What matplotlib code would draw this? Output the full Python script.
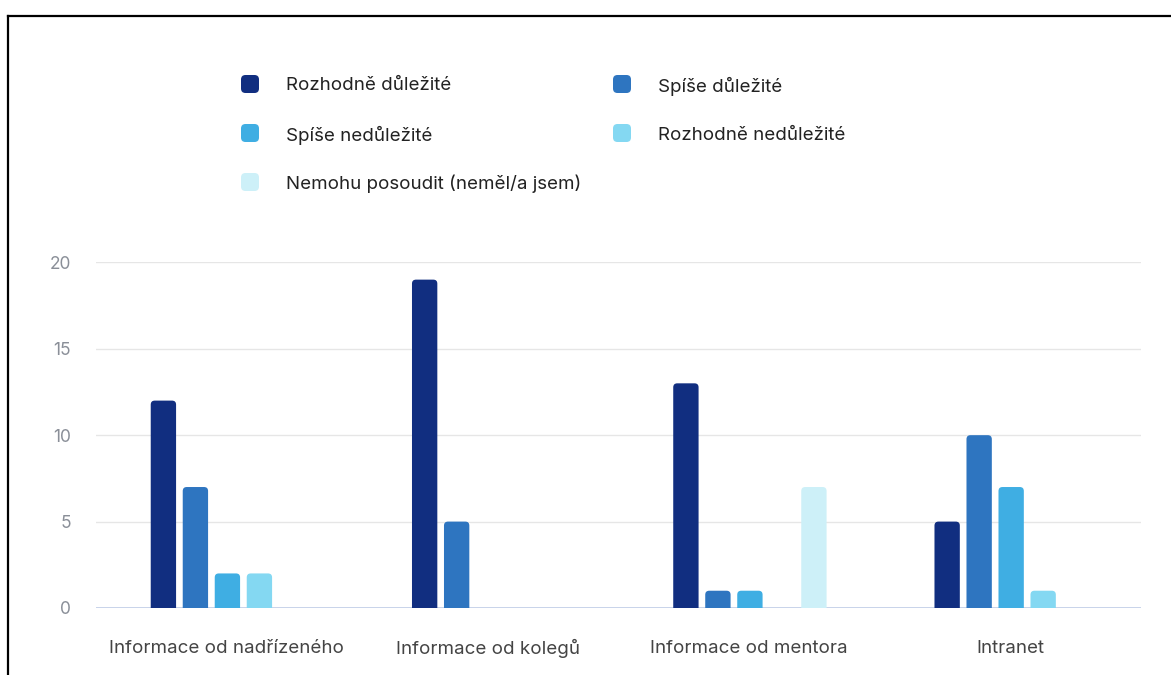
import numpy as np
import matplotlib; matplotlib.use("Agg")
import matplotlib.pyplot as plt
from matplotlib.patches import FancyBboxPatch
from matplotlib.lines import Line2D

plt.rcParams["font.family"] = ["Inter", "DejaVu Sans"]

categories = ["Informace od nadřízeného", "Informace od kolegů", "Informace od mentora", "Intranet"]
series = ["Rozhodně důležité", "Spíše důležité", "Spíše nedůležité",
          "Rozhodně nedůležité", "Nemohu posoudit (neměl/a jsem)"]
rozhodne_dulezite = [12, 19, 13, 5]
spise_dulezite = [7, 5, 1, 10]
spise_nedulezite = [2, 0, 1, 7]
rozhodne_nedulezite = [2, 0, 0, 1]
nemohu_posoudit = [0, 0, 7, 0]
values = [rozhodne_dulezite, spise_dulezite, spise_nedulezite, rozhodne_nedulezite, nemohu_posoudit]
colors = ["#112E80", "#2E75C0", "#3FAEE3", "#84D8F2", "#CDF0F8"]
yticks = [0, 5, 10, 15, 20]

W, H = 11.71, 6.75
fig = plt.figure(figsize=(W, H), dpi=100)
ax = fig.add_axes([96 / 1171, 67 / 675, 1045 / 1171, 346 / 675])
ax.set_xlim(-0.5, 3.5)
ax.set_ylim(0, 20.02)

step, bw = 0.1225, 0.097
x = np.arange(len(categories))
# rounded-top bars: the rounding below zero is clipped by the axes
r_x = 4 / 261
aspect = (4 / 17.3) / r_x
for i, (vals, c) in enumerate(zip(values, colors)):
    for xi, v in zip(x + (i - 2) * step + 0.003, vals):
        if v <= 0:
            continue
        p = FancyBboxPatch((xi - bw / 2, -1), bw, v + 1,
                           boxstyle=f"round,pad=0,rounding_size={r_x}",
                           mutation_aspect=aspect, fc=c, ec="none", zorder=3)
        ax.add_patch(p)

ax.set_yticks(yticks)
ax.set_xticks(x)
ax.set_xticklabels(categories, fontsize=13.5, color="#444444")
for lab in ax.get_xticklabels():
    lab.set_va("center_baseline")
ax.tick_params(axis="x", length=0, pad=27.4)
ax.tick_params(axis="y", length=0, pad=18, labelsize=12.5, labelcolor="#8a8f98")
for sp in ax.spines.values():
    sp.set_visible(False)
ax.grid(axis="y", color="#e6e6e6", lw=1)
ax.set_axisbelow(True)
ax.axhline(0, color="#c8d3ea", lw=1.4, zorder=2)

# legend, laid out in pixel units (dpi 100 -> 1 inch = 100 px)
legend_pos = [(250, 84), (622, 84), (250, 133), (622, 133), (250, 182)]
for (px, py), lab, c in zip(legend_pos, series, colors):
    s = 18
    p = FancyBboxPatch(((px - s / 2) / 100, (675 - py - s / 2) / 100), s / 100, s / 100,
                       boxstyle="round,pad=0,rounding_size=0.045",
                       transform=fig.dpi_scale_trans, fc=c, ec="none")
    fig.patches.append(p)
    fig.text((px + 36) / 1171, (675 - py) / 675, lab, fontsize=13.5,
             color="#222222", va="center_baseline", ha="left")

# frame lines along top and left edge
fig.add_artist(Line2D([8 / 1171, 1], [1 - 16 / 675, 1 - 16 / 675], color="black", lw=1.6))
fig.add_artist(Line2D([8 / 1171, 8 / 1171], [0, 1 - 16 / 675], color="black", lw=1.6))

fig.savefig("out.png", dpi=100, facecolor="white")
